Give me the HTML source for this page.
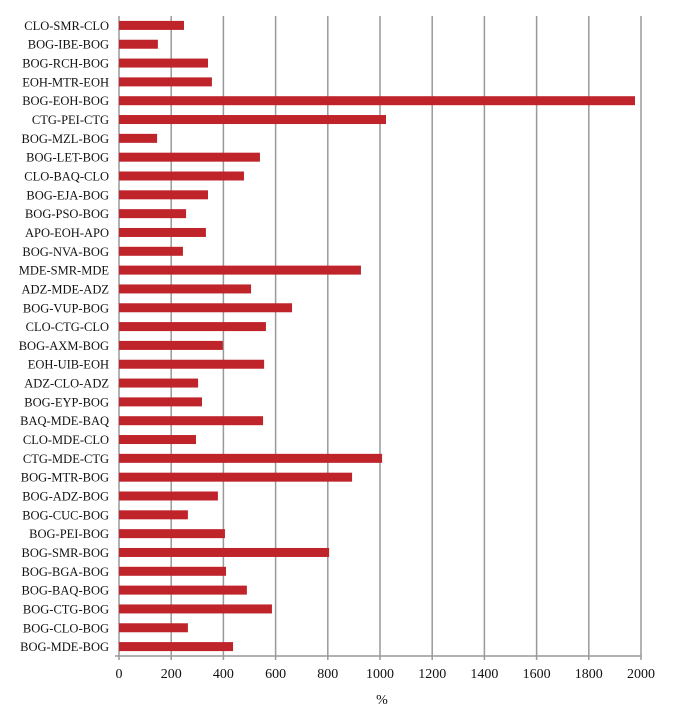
<!DOCTYPE html>
<html><head><meta charset="utf-8"><style>
body{margin:0;background:#fff;}
svg text{font-family:"Liberation Serif",serif;fill:#111;}
</style></head><body>
<svg id="chart" width="679" height="708" xmlns="http://www.w3.org/2000/svg"></svg>
<script>
const categories=["CLO-SMR-CLO","BOG-IBE-BOG","BOG-RCH-BOG","EOH-MTR-EOH","BOG-EOH-BOG","CTG-PEI-CTG","BOG-MZL-BOG","BOG-LET-BOG","CLO-BAQ-CLO","BOG-EJA-BOG","BOG-PSO-BOG","APO-EOH-APO","BOG-NVA-BOG","MDE-SMR-MDE","ADZ-MDE-ADZ","BOG-VUP-BOG","CLO-CTG-CLO","BOG-AXM-BOG","EOH-UIB-EOH","ADZ-CLO-ADZ","BOG-EYP-BOG","BAQ-MDE-BAQ","CLO-MDE-CLO","CTG-MDE-CTG","BOG-MTR-BOG","BOG-ADZ-BOG","BOG-CUC-BOG","BOG-PEI-BOG","BOG-SMR-BOG","BOG-BGA-BOG","BOG-BAQ-BOG","BOG-CTG-BOG","BOG-CLO-BOG","BOG-MDE-BOG"];
const values=[249,149,341,356,1977,1023,146,540,479,341,257,333,245,927,506,663,563,398,556,303,318,552,295,1008,893,379,264,406,805,410,490,586,264,437];
const ticks=[0,200,400,600,800,1000,1200,1400,1600,1800,2000];
const svg=document.getElementById('chart');
const NS='http://www.w3.org/2000/svg';
const x0=119,x1=641,yTop=16,yBot=656,xMax=2000;
const xs=v=>x0+(x1-x0)*v/xMax;
const rowH=(yBot-yTop)/categories.length;
const yc=i=>yTop+rowH*(i+0.5);
function mk(t,a){const e=document.createElementNS(NS,t);for(const k in a)e.setAttribute(k,a[k]);svg.appendChild(e);return e;}
ticks.forEach(t=>{
  const g=mk('line',{x1:xs(t),x2:xs(t),y1:yTop,y2:yBot+4,stroke:'#999','stroke-width':1.5});
  
  
  const l=mk('text',{x:xs(t),y:678,'text-anchor':'middle','font-size':14});
  l.textContent=t;
  
  
});
const ax=mk('line',{x1:x0-4,x2:x1,y1:yBot,y2:yBot,stroke:'#999','stroke-width':1.5});


categories.forEach((c,i)=>{
  const y=yc(i);
  const b=mk('rect',{x:x0,y:y-4.5,width:xs(values[i])-x0,height:9,fill:'#c0242b'});
  
  
  const t=mk('text',{x:109,y:y+4.5,'text-anchor':'end','font-size':12.5});
  t.textContent=c;
  
  
});
const xt=mk('text',{x:382,y:704,'text-anchor':'middle','font-size':14});
xt.textContent='%';


</script>
</body></html>
